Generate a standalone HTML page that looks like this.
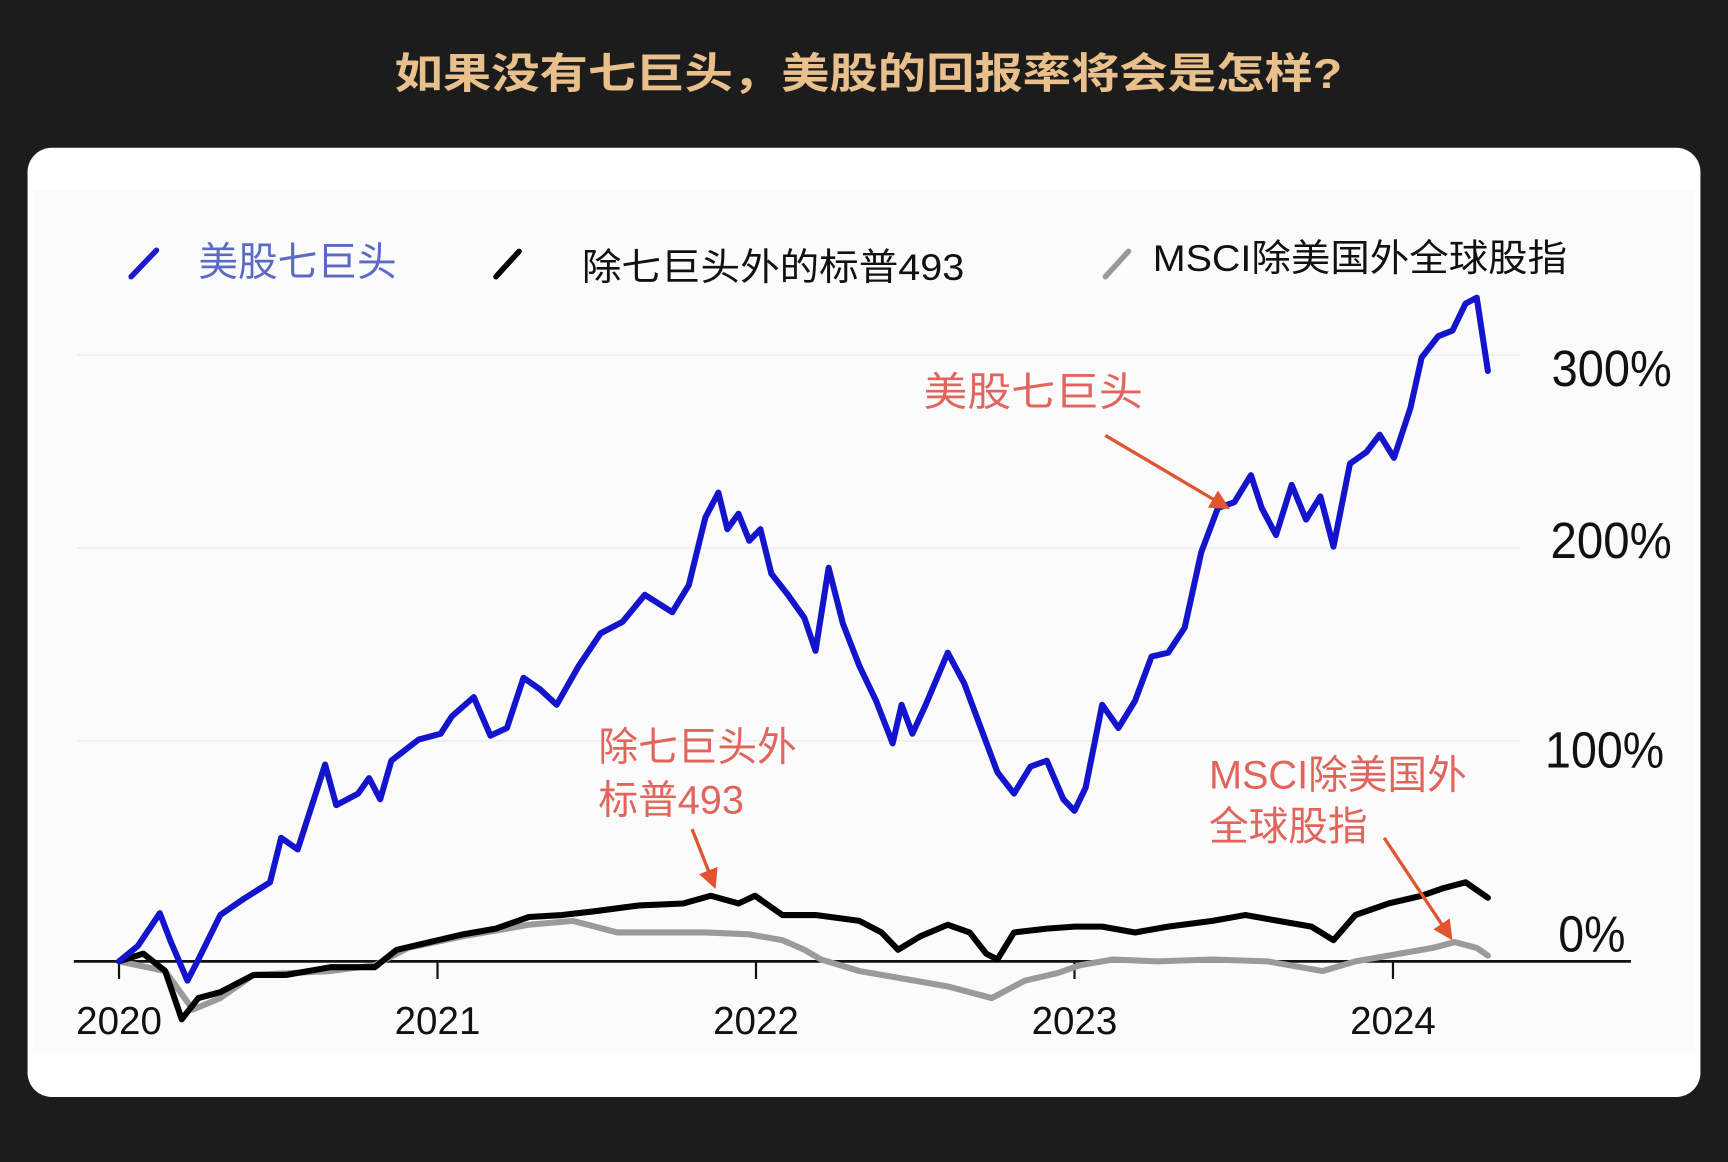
<!DOCTYPE html>
<html><head><meta charset="utf-8"><style>
html,body{margin:0;padding:0;background:#1b1b1b;}
svg{display:block;}
text{font-family:"Liberation Sans","Noto Sans CJK SC",sans-serif;}
</style></head><body>
<svg id="chart" width="1728" height="1162" viewBox="0 0 1568 1054" preserveAspectRatio="none" xmlns="http://www.w3.org/2000/svg">
<rect x="0" y="0" width="1568" height="1054" fill="#1c1c1c"/>
<text x="358" y="80" textLength="860" lengthAdjust="spacingAndGlyphs" font-size="38" font-weight="bold" fill="#e9c08c">如果没有七巨头，美股的回报率将会是怎样?</text>
<rect x="25" y="134" width="1518" height="861" rx="22" fill="#ffffff"/>
<rect x="30" y="172" width="1508" height="783" fill="#fbfbfb"/>
<g id="grid"></g>
<g>
  <line x1="119" y1="251" x2="142" y2="227" stroke="#1a1acc" stroke-width="5" stroke-linecap="round"/>
  <text x="180" y="250" font-size="36" fill="#5b6bc4">美股七巨头</text>
  <line x1="450" y1="251" x2="471" y2="228" stroke="#000" stroke-width="5" stroke-linecap="round"/>
  <text x="528" y="254" textLength="347" lengthAdjust="spacingAndGlyphs" font-size="34" fill="#111">除七巨头外的标普493</text>
  <line x1="1003" y1="251" x2="1024" y2="228" stroke="#999" stroke-width="5" stroke-linecap="round"/>
  <text x="1046" y="246" textLength="376" lengthAdjust="spacingAndGlyphs" font-size="34" fill="#111">MSCI除美国外全球股指</text>
</g>
<g id="yticks"></g>
<g id="xaxis"></g>
<g id="series"></g>
<g fill="#e0655c" font-size="36">
  <text x="838" y="368" textLength="199" lengthAdjust="spacingAndGlyphs">美股七巨头</text>
  <text x="543" y="690">除七巨头外</text>
  <text x="543" y="738">标普493</text>
  <text x="1097" y="715">MSCI除美国外</text>
  <text x="1097" y="762">全球股指</text>
</g>
<defs><marker id="ah" viewBox="0 0 10 10" refX="8" refY="5" markerWidth="6" markerHeight="6" orient="auto"><path d="M0,0 L10,5 L0,10 z" fill="#e0552f"/></marker></defs>
<g stroke="#e0552f" stroke-width="3" marker-end="url(#ah)">
  <line x1="1003" y1="395" x2="1113" y2="460"/>
  <line x1="628" y1="752" x2="648" y2="803"/>
  <line x1="1256" y1="760" x2="1316" y2="850"/>
</g>
</svg>
<script>
const years = [2020, 2021, 2022, 2023, 2024];
const yTickValues = [0, 100, 200, 300];
const yTickLabels = ["0%", "100%", "200%", "300%"];
const mag7T = [0,.059,.128,.163,.215,.249,.318,.388,.474,.509,.561,.647,.682,.751,.785,.820,.855,.941,1.010,1.045,1.114,1.166,1.218,1.270,1.322,1.374,1.443,1.512,1.581,1.651,1.737,1.789,1.841,1.882,1.910,1.945,1.979,2.014,2.048,2.100,2.152,2.187,2.228,2.273,2.325,2.377,2.429,2.457,2.491,2.533,2.602,2.654,2.706,2.758,2.810,2.862,2.913,2.965,3.000,3.035,3.087,3.138,3.190,3.242,3.294,3.346,3.398,3.450,3.502,3.554,3.588,3.633,3.682,3.727,3.772,3.813,3.865,3.917,3.958,4.003,4.055,4.090,4.142,4.187,4.228,4.263,4.298];
const mag7V = [0,8,25,10,-10,1,24,32,41,64,58,102,81,87,95,84,104,115,118,127,137,117,121,147,141,133,153,170,176,190,181,195,230,243,224,232,218,224,201,190,178,161,204,175,153,135,113,133,118,133,160,144,121,98,87,101,104,84,78,90,133,121,135,158,160,173,212,235,238,252,235,221,247,229,241,215,258,264,273,261,287,313,324,327,341,344,306];
const sp493T = [0,.076,.145,.197,.249,.318,.422,.526,.664,.803,.872,.976,1.080,1.183,1.287,1.391,1.495,1.633,1.772,1.858,1.945,1.997,2.083,2.187,2.325,2.394,2.446,2.516,2.602,2.671,2.723,2.758,2.810,2.913,3.0,3.087,3.190,3.294,3.433,3.536,3.640,3.744,3.813,3.882,3.986,4.090,4.159,4.228,4.298];
const sp493V = [0,4,-5,-30,-19,-16,-7,-7,-3,-3,6,10,14,17,23,24,26,29,30,34,30,34,24,24,21,15,6,13,19,15,4,1,15,17,18,18,15,18,21,24,21,18,11,24,30,34,38,41,33];
const msciT = [0,.145,.232,.318,.422,.664,.803,.907,1.080,1.287,1.426,1.564,1.702,1.841,1.979,2.083,2.152,2.204,2.325,2.464,2.602,2.740,2.844,2.948,3.017,3.121,3.260,3.433,3.606,3.779,3.882,4.021,4.125,4.194,4.263,4.298];
const msciV = [0,-5,-25,-19,-7,-5,-2,7,13,19,21,15,15,15,14,11,6,1,-5,-9,-13,-19,-10,-6,-2,1,0,1,0,-5,0,4,7,10,7,3];

const NS = "http://www.w3.org/2000/svg";
const xOf = t => 108 + t * 289;
const yOf = v => 872 - v * 1.75;
function mk(tag, attrs, parent){const e=document.createElementNS(NS,tag);for(const k in attrs)e.setAttribute(k,attrs[k]);parent.appendChild(e);return e;}

const grid = document.getElementById('grid');
yTickValues.forEach((v,i)=>{
  if(v===0) return;
  const g = mk('line',{x1:70,x2:1380,y1:yOf(v)-25,y2:yOf(v)-25,stroke:'#f0f0f0','stroke-width':2},grid);
  
  
});
const yt = document.getElementById('yticks');
const labelY = [845, 678, 488, 332];
const labelX = [1414, 1402, 1407, 1408];
const labelW = [61, 108, 110, 109];
yTickLabels.forEach((lab,i)=>{
  const t = mk('text',{x:labelX[i],y:labelY[i]+18,textLength:labelW[i],lengthAdjust:'spacingAndGlyphs','font-size':46,fill:'#111'},yt);
  t.textContent = lab;
  
  
});
const xa = document.getElementById('xaxis');
const ax = mk('line',{x1:67,x2:1480,y1:872,y2:872,stroke:'#111','stroke-width':2.5},xa);


years.forEach((yr,i)=>{
  const x = xOf(yr-2020);
  const tk = mk('line',{x1:x,x2:x,y1:872,y2:888,stroke:'#111','stroke-width':2},xa);
  
  
  const t = mk('text',{x:x,y:938,'text-anchor':'middle','font-size':35,fill:'#111'},xa);
  t.textContent = yr;
  
  
});
const ser = document.getElementById('series');
function line(T,V,color,w,name){
  const d = T.map((t,i)=>(i?'L':'M')+xOf(t).toFixed(1)+','+yOf(V[i]).toFixed(1)).join(' ');
  const p = mk('path',{d:d,fill:'none',stroke:color,'stroke-width':w,'stroke-linejoin':'round','stroke-linecap':'round'},ser);
  
  
}
line(msciT,msciV,'#9a9a9a',5.5,'msci-line');
line(sp493T,sp493V,'#000000',5.5,'sp493-line');
line(mag7T,mag7V,'#1414cc',5.5,'mag7-line');
</script>
</body></html>
